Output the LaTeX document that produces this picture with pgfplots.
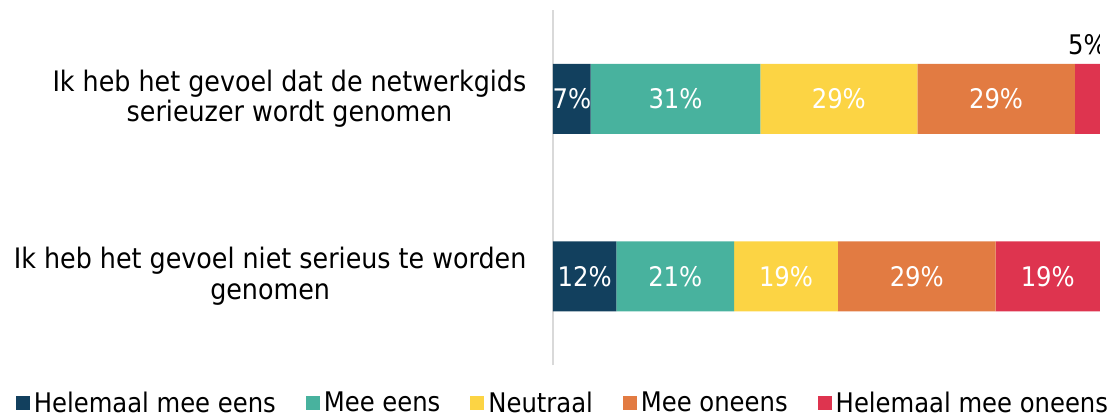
\documentclass[border=0pt]{standalone}
\usepackage{fontspec}
\setmainfont{DejaVu Sans Condensed}
\usepackage{pgfplots}
\pgfplotsset{compat=1.18}
\definecolor{cA}{RGB}{18,64,94}
\definecolor{cB}{RGB}{72,178,158}
\definecolor{cC}{RGB}{252,212,68}
\definecolor{cD}{RGB}{226,123,66}
\definecolor{cE}{RGB}{222,52,79}
\definecolor{axgray}{RGB}{217,217,217}

\begin{document}
\begin{tikzpicture}
\useasboundingbox (-276.5pt,-27pt) rectangle (283.5pt,182.5pt);
\begin{axis}[
    at={(0,0)}, anchor=south west,
    scale only axis,
    width=273.5pt, height=177.5pt,
    xbar stacked,
    bar width=35pt,
    xmin=0, xmax=100,
    ymin=-0.5, ymax=1.5,
    axis x line=none,
    axis y line=left,
    y axis line style={-, draw=axgray, line width=0.8pt},
    ytick={0,1},
    yticklabels={{Ik heb het gevoel niet serieus te worden\\genomen},
                 {Ik heb het gevoel dat de netwerkgids\\serieuzer wordt genomen}},
    ytick style={draw=none},
    yticklabel style={align=center, font=\fontsize{14.1}{15.2}\selectfont, inner sep=0pt, xshift=-11pt},
    point meta=explicit symbolic,
    nodes near coords={\pgfplotspointmeta},
    every node near coord/.append style={anchor=center, inner sep=0pt, text=white,
        font=\fontsize{13.5}{15}\selectfont},
    legend columns=5,
    legend style={at={(0.02,-0.108)}, anchor=center, draw=none, fill=none,
        font=\fontsize{13.5}{15}\selectfont,
        /tikz/every even column/.append style={column sep=13pt}},
    legend image code/.code={\fill[#1] (0pt,-3.5pt) rectangle (7pt,3.5pt);},
]
\addplot[fill=cA, draw=none] coordinates {(11.6,0) [12\%] (6.9,1) [7\%]};
\addplot[fill=cB, draw=none] coordinates {(21.5,0) [21\%] (31.0,1) [31\%]};
\addplot[fill=cC, draw=none] coordinates {(19.0,0) [19\%] (28.7,1) [29\%]};
\addplot[fill=cD, draw=none] coordinates {(28.8,0) [29\%] (28.8,1) [29\%]};
\addplot[fill=cE, draw=none] coordinates {(19.1,0) [19\%] (4.6,1) []};
\legend{Helemaal mee eens, Mee eens, Neutraal, Mee oneens, Helemaal mee oneens}
\node[font=\fontsize{13.5}{15}\selectfont, text=black] at (axis cs:97.7,1) [yshift=27pt] {5\%};
\end{axis}
\end{tikzpicture}
\end{document}
